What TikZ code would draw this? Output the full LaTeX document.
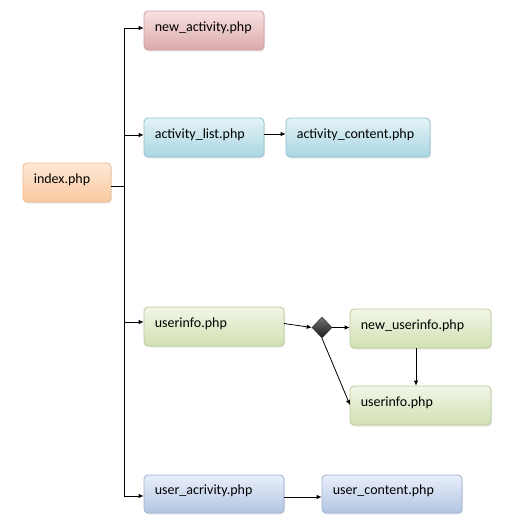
\documentclass[tikz,border=0pt]{standalone}
\usepackage{fontspec}
\setmainfont{Carlito}
\usetikzlibrary{arrows.meta,shapes.geometric,shadows,calc}
\definecolor{pinkT}{HTML}{F8E2E2}\definecolor{pinkB}{HTML}{DBA9A9}\definecolor{pinkD}{HTML}{CF9C9C}
\definecolor{cyanT}{HTML}{E4F3F7}\definecolor{cyanB}{HTML}{A9D6E1}\definecolor{cyanD}{HTML}{92C2CE}
\definecolor{oranT}{HTML}{FEE8D6}\definecolor{oranB}{HTML}{F9C9A0}\definecolor{oranD}{HTML}{EDB88C}
\definecolor{grenT}{HTML}{F2F6E8}\definecolor{grenB}{HTML}{D1E0B2}\definecolor{grenD}{HTML}{B9CB98}
\definecolor{bluT}{HTML}{E9EFFA}\definecolor{bluB}{HTML}{B2C5E3}\definecolor{bluD}{HTML}{9BB0D2}
\tikzset{
  pagebox/.style n args={3}{rectangle, rounded corners=4pt, draw=#3, line width=0.8pt,
    top color=#1, bottom color=#2, inner sep=0pt,
    drop shadow={opacity=0.18, shadow xshift=1pt, shadow yshift=-1.5pt}},
  lbl/.style={anchor=west, inner sep=0pt, font=\fontsize{14}{16}\selectfont},
  arr/.style={-{Latex[length=5pt,width=4.5pt]}, line width=0.8pt},
  ln/.style={line width=0.8pt},
  gate/.style={diamond, draw=black!80, top color=black!55, bottom color=black!90,
    minimum width=20pt, minimum height=21pt, inner sep=0pt, line width=0.5pt}
}
\begin{document}
\begin{tikzpicture}[x=1pt,y=-1pt]
\useasboundingbox (0,0) rectangle (506,523);
% boxes
\node[pagebox={oranT}{oranB}{oranD}, minimum width=88pt, minimum height=39pt] (idx) at (67,182.5) {};
\node[pagebox={pinkT}{pinkB}{pinkD}, minimum width=120pt, minimum height=39pt] (na) at (204,30.5) {};
\node[pagebox={cyanT}{cyanB}{cyanD}, minimum width=120pt, minimum height=39pt] (al) at (204,137.5) {};
\node[pagebox={cyanT}{cyanB}{cyanD}, minimum width=144pt, minimum height=39pt] (ac) at (358,137.5) {};
\node[pagebox={grenT}{grenB}{grenD}, minimum width=140pt, minimum height=39pt] (ui) at (214,326.5) {};
\node[pagebox={grenT}{grenB}{grenD}, minimum width=141pt, minimum height=39pt] (nu) at (420.5,328.5) {};
\node[pagebox={grenT}{grenB}{grenD}, minimum width=141pt, minimum height=39pt] (ur) at (420.5,405.5) {};
\node[pagebox={bluT}{bluB}{bluD}, minimum width=140pt, minimum height=38pt] (ua) at (214,494) {};
\node[pagebox={bluT}{bluB}{bluD}, minimum width=140pt, minimum height=38pt] (uc) at (392,494) {};
% labels
\node[lbl] (tidx) at ([xshift=11pt,yshift=3pt]idx.west) {index.php};
\node[lbl] (tna) at ([xshift=11pt,yshift=3pt]na.west) {new\_activity.php};
\node[lbl] (tal) at ([xshift=11pt,yshift=3pt]al.west) {activity\_list.php};
\node[lbl] (tac) at ([xshift=11pt,yshift=3pt]ac.west) {activity\_content.php};
\node[lbl] (tui) at ([xshift=11pt,yshift=3pt]ui.west) {userinfo.php};
\node[lbl] (tnu) at ([xshift=11pt,yshift=3pt]nu.west) {new\_userinfo.php};
\node[lbl] (tur) at ([xshift=11pt,yshift=3pt]ur.west) {userinfo.php};
\node[lbl] (tua) at ([xshift=11pt,yshift=3pt]ua.west) {user\_acrivity.php};
\node[lbl] (tuc) at ([xshift=11pt,yshift=3pt]uc.west) {user\_content.php};
% decision diamond
\node[gate] (g) at (322,327.5) {};
% trunk
\coordinate (t1) at (124,28);
\coordinate (t2) at (124,135);
\coordinate (ti) at (124,186);
\coordinate (t3) at (124,322);
\coordinate (t4) at (124,496);
\draw[ln] (t1) -- (t4);
\draw[ln] (idx.east |- ti) -- (ti);
\draw[arr] (t1) -- (t1 -| na.west);
\draw[arr] (t2) -- (t2 -| al.west);
\draw[arr] (t3) -- (t3 -| ui.west);
\draw[arr] (t4) -- (t4 -| ua.west);
% other connectors
\coordinate (a1) at (264,134);
\draw[arr] (a1) -- (a1 -| ac.west);
\coordinate (u1) at (284,323.5);
\draw[arr] (u1) -- (g.west);
\draw[arr] (g.east) -- (g.east -| nu.west);
\coordinate (u2) at (350,405);
\draw[arr] (g.south) -- (u2);
\coordinate (v1) at (416,348);
\draw[arr] (v1) -- (v1 |- ur.north);
\coordinate (b1) at (284,497);
\draw[arr] (b1) -- (b1 -| uc.west);
\end{tikzpicture}
\end{document}
